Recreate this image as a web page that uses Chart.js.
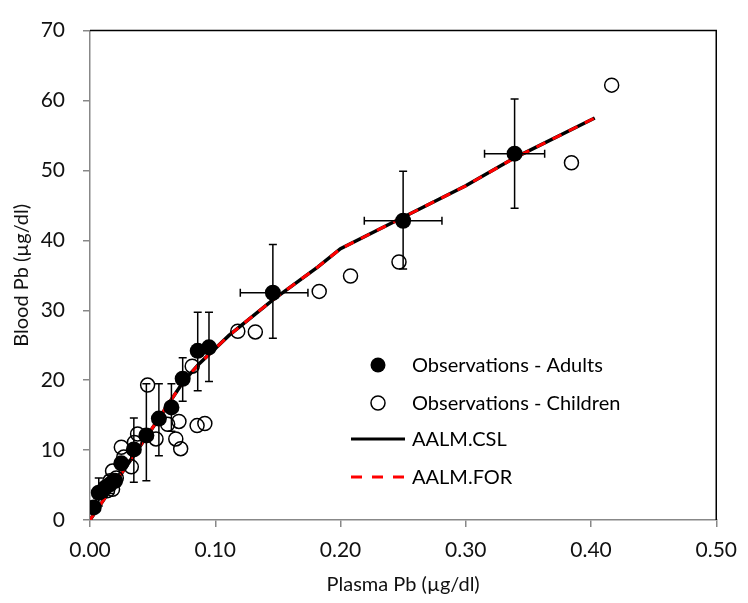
<!DOCTYPE html>
<html>
<head>
<meta charset="utf-8">
<script src="https://cdn.jsdelivr.net/npm/chart.js@4/dist/chart.umd.min.js"></script>
<style>
  html, body { margin: 0; padding: 0; background: #fff; }
  #wrap { width: 748px; height: 603px; }
</style>
</head>
<body>
<div id="wrap"><canvas id="pbChart" width="748" height="603"></canvas></div>
<script>
// Observations - Adults (mean with error bars)
const adultX = [0.003, 0.007, 0.012, 0.016, 0.020, 0.025, 0.035, 0.045, 0.055, 0.065, 0.074, 0.086, 0.095, 0.146, 0.250, 0.339];
const adultY = [1.8, 3.9, 4.6, 5.1, 5.6, 8.1, 10.1, 12.1, 14.5, 16.1, 20.2, 24.2, 24.7, 32.5, 42.8, 52.4];
const adultYLow  = [1.8, 2.0, 4.6, 3.8, 5.6, 8.1, 5.4, 5.6, 9.2, 12.7, 17.0, 18.5, 19.8, 26.0, 35.9, 44.6];
const adultYHigh = [1.8, 6.0, 4.6, 6.4, 5.6, 8.1, 14.6, 19.5, 19.5, 19.5, 23.2, 29.7, 29.7, 39.4, 49.9, 60.2];
const adultXLow  = [0.003, 0.007, 0.012, 0.016, 0.020, 0.025, 0.035, 0.045, 0.055, 0.065, 0.074, 0.086, 0.095, 0.120, 0.219, 0.315];
const adultXHigh = [0.003, 0.007, 0.012, 0.016, 0.020, 0.025, 0.035, 0.045, 0.055, 0.065, 0.074, 0.086, 0.095, 0.174, 0.281, 0.363];

// Observations - Children
const childX = [0.014, 0.016, 0.018, 0.018, 0.021, 0.025, 0.027, 0.033, 0.0355, 0.038, 0.046, 0.0527, 0.062, 0.0685, 0.071, 0.0724, 0.0816, 0.0855, 0.0917, 0.118, 0.132, 0.183, 0.208, 0.2467, 0.3844, 0.4165];
const childY = [4.2, 5.6, 4.4, 7.0, 6.0, 10.4, 9.0, 7.6, 11.1, 12.3, 19.3, 11.6, 13.7, 11.6, 14.1, 10.2, 22.0, 13.5, 13.8, 27.0, 26.9, 32.7, 34.9, 36.9, 51.1, 62.2];

// AALM model curve (CSL and FOR overlap)
const modelX = [0, 0.02, 0.05, 0.063, 0.075, 0.087, 0.111, 0.146, 0.182, 0.2, 0.25, 0.3, 0.339, 0.403];
const modelCSL = [0, 5.3, 13.2, 16.7, 19.9, 22.3, 26.4, 31.5, 36.2, 38.8, 43.3, 47.8, 51.8, 57.5];
const modelFOR = [0, 5.3, 13.2, 16.7, 19.9, 22.3, 26.4, 31.5, 36.2, 38.8, 43.3, 47.8, 51.8, 57.5];

const xTicks = [0, 0.1, 0.2, 0.3, 0.4, 0.5];
const yTicks = [0, 10, 20, 30, 40, 50, 60, 70];

const FONT = "Lato, 'Open Sans', sans-serif";

const toPoints = (xs, ys) => xs.map((x, i) => ({ x: x, y: ys[i] }));

// error bars for the adult series, drawn through the chart scales
const errorBars = {
  id: 'errorBars',
  afterDatasetsDraw(chart) {
    const { ctx, scales: { x, y } } = chart;
    const cap = 4;
    ctx.save();
    ctx.strokeStyle = '#000';
    ctx.lineWidth = 1.5;
    adultX.forEach((xv, i) => {
      const px = x.getPixelForValue(xv);
      const py = y.getPixelForValue(adultY[i]);
      if (adultYHigh[i] !== adultYLow[i]) {
        const top = y.getPixelForValue(adultYHigh[i]);
        const bot = y.getPixelForValue(adultYLow[i]);
        ctx.beginPath();
        ctx.moveTo(px, top); ctx.lineTo(px, bot);
        ctx.moveTo(px - cap, top); ctx.lineTo(px + cap, top);
        ctx.moveTo(px - cap, bot); ctx.lineTo(px + cap, bot);
        ctx.stroke();
      }
      if (adultXHigh[i] !== adultXLow[i]) {
        const l = x.getPixelForValue(adultXLow[i]);
        const r = x.getPixelForValue(adultXHigh[i]);
        ctx.beginPath();
        ctx.moveTo(l, py); ctx.lineTo(r, py);
        ctx.moveTo(l, py - cap); ctx.lineTo(l, py + cap);
        ctx.moveTo(r, py - cap); ctx.lineTo(r, py + cap);
        ctx.stroke();
      }
    });
    ctx.restore();
  }
};

// black frame on top and right, like the Excel plot area
const plotFrame = {
  id: 'plotFrame',
  beforeDatasetsDraw(chart) {
    const { ctx, chartArea: a } = chart;
    ctx.save();
    ctx.strokeStyle = '#000';
    ctx.lineWidth = 1.5;
    ctx.beginPath();
    ctx.moveTo(a.left, a.top);
    ctx.lineTo(a.right, a.top);
    ctx.lineTo(a.right, a.bottom);
    ctx.stroke();
    ctx.restore();
  }
};

// legend sits inside the plot area
const insideLegend = {
  id: 'insideLegend',
  afterDraw(chart) {
    const ctx = chart.ctx;
    const tx = 412;
    ctx.save();
    ctx.font = '20px ' + FONT;
    ctx.fillStyle = '#000';
    ctx.textBaseline = 'middle';
    ctx.textAlign = 'left';

    ctx.beginPath();
    ctx.arc(378, 365, 7.5, 0, Math.PI * 2);
    ctx.fill();
    ctx.fillText('Observations - Adults', tx, 366);

    ctx.beginPath();
    ctx.arc(378, 403, 7, 0, Math.PI * 2);
    ctx.lineWidth = 1.5;
    ctx.strokeStyle = '#000';
    ctx.stroke();
    ctx.fillText('Observations - Children', tx, 404);

    ctx.beginPath();
    ctx.lineWidth = 3;
    ctx.moveTo(351, 439); ctx.lineTo(405, 439);
    ctx.stroke();
    ctx.fillText('AALM.CSL', tx, 440);

    ctx.beginPath();
    ctx.strokeStyle = '#ff0000';
    ctx.setLineDash([11, 10]);
    ctx.moveTo(351, 477); ctx.lineTo(405, 477);
    ctx.stroke();
    ctx.setLineDash([]);
    ctx.fillText('AALM.FOR', tx, 478);
    ctx.restore();
  }
};

new Chart(document.getElementById('pbChart'), {
  type: 'scatter',
  data: {
    datasets: [
      {
        label: 'Observations - Adults',
        data: toPoints(adultX, adultY),
        pointRadius: 8,
        pointBackgroundColor: '#000',
        pointBorderColor: '#000',
        pointBorderWidth: 0,
        order: 0
      },
      {
        label: 'Observations - Children',
        data: toPoints(childX, childY),
        pointRadius: 7,
        pointBackgroundColor: 'rgba(0,0,0,0)',
        pointBorderColor: '#000',
        pointBorderWidth: 1.5,
        order: 1
      },
      {
        label: 'AALM.FOR',
        data: toPoints(modelX, modelFOR),
        showLine: true,
        borderColor: '#ff0000',
        borderWidth: 3,
        borderDash: [10, 8],
        pointRadius: 0,
        tension: 0,
        order: 2
      },
      {
        label: 'AALM.CSL',
        data: toPoints(modelX, modelCSL),
        showLine: true,
        borderColor: '#000',
        borderWidth: 3.5,
        pointRadius: 0,
        tension: 0,
        order: 3
      }
    ]
  },
  options: {
    responsive: false,
    animation: false,
    layout: { padding: { top: 17, right: 25, left: 0, bottom: 0 } },
    plugins: {
      legend: { display: false },
      tooltip: { enabled: false }
    },
    scales: {
      x: {
        type: 'linear',
        min: 0,
        max: 0.5,
        afterFit: (s) => { s.height = 83; },
        afterBuildTicks: (s) => { s.ticks = xTicks.map(v => ({ value: v })); },
        grid: { drawOnChartArea: false, drawTicks: true, tickLength: 7, color: '#888', lineWidth: 1.5 },
        border: { color: '#888', width: 1.5 },
        ticks: {
          color: '#111',
          padding: 11,
          font: { family: FONT, size: 21 },
          callback: (v) => Number(v).toFixed(2)
        },
        title: {
          display: true,
          text: 'Plasma Pb (µg/dl)',
          color: '#111',
          font: { family: FONT, size: 20 },
          padding: { top: 0, bottom: 6 }
        }
      },
      y: {
        type: 'linear',
        min: 0,
        max: 70,
        afterFit: (s) => { s.width = 90; },
        afterBuildTicks: (s) => { s.ticks = yTicks.map(v => ({ value: v })); },
        grid: { drawOnChartArea: false, drawTicks: true, tickLength: 7, color: '#888', lineWidth: 1.5 },
        border: { color: '#888', width: 1.5 },
        ticks: {
          color: '#111',
          padding: 18,
          font: { family: FONT, size: 21 }
        },
        title: {
          display: true,
          text: 'Blood Pb (µg/dl)',
          color: '#111',
          font: { family: FONT, size: 20 },
          padding: { top: 10, bottom: 0 }
        }
      }
    }
  },
  plugins: [plotFrame, errorBars, insideLegend]
});
</script>
</body>
</html>
